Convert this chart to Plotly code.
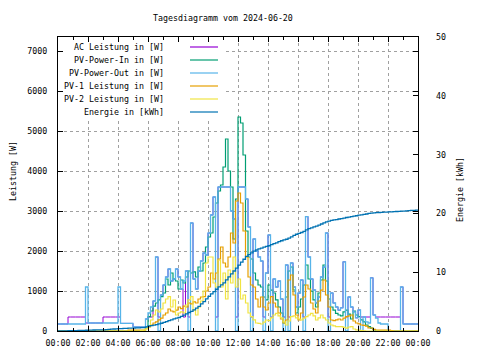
import pandas as pd
import plotly.graph_objects as go

# ---------------- data (10-minute samples, 2024-06-20 00:00 .. 2024-06-21 00:00) ----------------
times = pd.date_range("2024-06-20 00:00", "2024-06-21 00:00", freq="10min")

ac_power = [
    175, 175, 175, 175, 350, 350,
    350, 350, 350, 350, 350, 200,
    200, 200, 200, 200, 200, 200,
    350, 350, 350, 350, 350, 350,
    350, 190, 190, 190, 190, 190,
    100, 100, 100, 100, 100, 300,
    350, 350, 750, 1850, 350, 900,
    1150, 1350, 1550, 1250, 1300, 1550,
    1350, 1050, 350, 1500, 350, 2700,
    1300, 1050, 1500, 1750, 1950, 1900,
    2450, 2900, 3350, 350, 3600, 3600,
    3600, 3600, 3600, 3000, 2800, 350,
    3600, 3600, 3600, 3300, 2600, 350,
    2300, 2000, 1850, 1750, 350, 1450,
    2400, 350, 1300, 1100, 1250, 800,
    350, 1650, 350, 1700, 1100, 600,
    950, 1275, 350, 2860, 1850, 1300,
    1025, 700, 850, 1350, 1600, 2450,
    350, 950, 700, 600, 520, 580,
    1730, 350, 850, 600, 480, 330,
    525, 350, 350, 350, 350, 1330,
    400, 350, 350, 350, 350, 350,
    350, 350, 350, 350, 350, 1100,
    175, 175, 175, 175, 175, 175,
    175,
]

pv_power_in = [
    0, 0, 0, 0, 0, 0,
    0, 0, 0, 0, 0, 0,
    0, 0, 0, 0, 0, 0,
    0, 0, 0, 0, 0, 0,
    0, 0, 0, 0, 0, 0,
    0, 0, 0, 0, 0, 100,
    360, 500, 620, 700, 780, 860,
    950, 1300, 1150, 1450, 1300, 1250,
    1050, 1275, 1200, 1350, 1500, 1450,
    1480, 1350, 1600, 1500, 1700, 2100,
    2350, 2450, 2850, 3200, 3500, 3650,
    4100, 4800, 4000, 3600, 2300, 3300,
    5350, 5200, 4400, 2500, 1850, 1800,
    1450, 1275, 1150, 1100, 850, 780,
    1150, 1020, 950, 780, 600, 450,
    200, 850, 1500, 1600, 1025, 450,
    600, 800, 1150, 1650, 1300, 1000,
    780, 600, 950, 1275, 1650, 1250,
    800, 600, 520, 440, 400, 380,
    480, 520, 420, 300, 500, 400,
    360, 280, 230, 150, 110, 70,
    30, 0, 0, 0, 0, 0,
    0, 0, 0, 0, 0, 0,
    0, 0, 0, 0, 0, 0,
    0,
]

pv_power_out = [
    175, 175, 175, 175, 175, 175,
    175, 175, 175, 175, 175, 1100,
    200, 200, 200, 200, 200, 200,
    200, 200, 200, 200, 200, 200,
    1100, 190, 190, 190, 190, 190,
    100, 100, 100, 100, 100, 300,
    450, 600, 750, 1850, 0, 900,
    1150, 1350, 1550, 1250, 1300, 1550,
    1350, 1050, 1250, 1500, 0, 2700,
    1300, 1050, 1500, 1750, 1950, 1900,
    2450, 2900, 3350, 0, 3600, 3600,
    3600, 3600, 3600, 3000, 2800, 0,
    3600, 3600, 3600, 3300, 2600, 0,
    2300, 2000, 1850, 1750, 0, 1450,
    2400, 0, 1300, 1100, 1250, 800,
    0, 1650, 0, 1700, 1100, 600,
    950, 1275, 0, 2860, 1850, 1300,
    1025, 700, 850, 1350, 1600, 2450,
    0, 950, 700, 600, 520, 580,
    1730, 0, 850, 600, 480, 330,
    525, 0, 350, 230, 200, 1330,
    400, 320, 200, 175, 175, 175,
    0, 0, 0, 0, 0, 1100,
    175, 175, 175, 175, 175, 175,
    175,
]

pv1_power = [
    0, 0, 0, 0, 0, 0,
    0, 0, 0, 0, 0, 0,
    0, 0, 0, 0, 0, 0,
    0, 0, 0, 0, 0, 0,
    0, 0, 0, 0, 20, 20,
    20, 20, 20, 20, 20, 60,
    100, 150, 200, 230, 280, 320,
    400, 450, 550, 500, 480, 520,
    600, 560, 620, 600, 700, 680,
    730, 700, 800, 850, 860, 1000,
    1100, 1450, 1300, 1450, 1800, 2100,
    1700, 1600, 1850, 2450, 2200, 3250,
    3450, 3200, 2500, 1850, 1350, 1150,
    1100, 800, 600, 850, 600, 525,
    700, 860, 700, 600, 450, 300,
    200, 275, 1275, 1400, 900, 400,
    280, 450, 850, 1150, 1050, 700,
    550, 450, 750, 1020, 1275, 900,
    600, 275, 260, 280, 300, 275,
    320, 360, 380, 400, 250, 200,
    180, 150, 140, 120, 80, 75,
    40, 25, 20, 20, 20, 20,
    20, 10, 0, 0, 0, 0,
    0, 0, 0, 0, 0, 0,
    0,
]

pv2_power = [
    0, 0, 0, 0, 0, 0,
    0, 0, 0, 0, 0, 0,
    0, 0, 0, 0, 0, 0,
    0, 0, 0, 0, 0, 0,
    0, 0, 0, 0, 0, 0,
    0, 0, 0, 10, 20, 60,
    110, 275, 400, 525, 480, 550,
    700, 800, 860, 600, 775, 400,
    450, 480, 450, 650, 780, 860,
    525, 400, 600, 750, 1000, 1700,
    1850, 1850, 1200, 1100, 1775, 1100,
    1450, 800, 1525, 1200, 1850, 1100,
    1300, 800, 900, 700, 450, 360,
    280, 200, 190, 175, 220, 275,
    260, 330, 400, 440, 380, 330,
    230, 150, 250, 360, 380, 330,
    300, 275, 320, 360, 400, 440,
    380, 275, 330, 400, 330, 275,
    200, 150, 130, 110, 110, 110,
    90, 70, 100, 110, 50, 30,
    20, 10, 5, 0, 0, 0,
    0, 0, 0, 0, 0, 0,
    0, 0, 0, 0, 0, 0,
    0, 0, 0, 0, 0, 0,
    0,
]

energy_kwh = [
    0.00, 0.00, 0.02, 0.03, 0.04, 0.05,
    0.07, 0.08, 0.09, 0.10, 0.12, 0.13,
    0.15, 0.16, 0.17, 0.18, 0.18, 0.19,
    0.20, 0.24, 0.28, 0.31, 0.34, 0.37,
    0.40, 0.42, 0.44, 0.46, 0.48, 0.49,
    0.50, 0.52, 0.54, 0.56, 0.58, 0.70,
    0.85, 0.92, 1.00, 1.10, 1.20, 1.32,
    1.45, 1.60, 1.75, 1.90, 2.05, 2.18,
    2.30, 2.50, 2.70, 2.90, 3.15, 3.35,
    3.60, 3.90, 4.20, 4.60, 5.00, 5.45,
    5.90, 6.30, 6.70, 7.10, 7.50, 7.85,
    8.20, 8.70, 9.20, 9.70, 10.20, 10.70,
    11.20, 11.70, 12.20, 12.70, 13.00, 13.30,
    13.60, 13.80, 13.95, 14.10, 14.25, 14.40,
    14.50, 14.70, 14.85, 15.00, 15.20, 15.35,
    15.50, 15.60, 15.80, 16.00, 16.25, 16.45,
    16.60, 16.75, 16.95, 17.20, 17.40, 17.55,
    17.70, 17.85, 18.00, 18.20, 18.40, 18.55,
    18.70, 18.80, 18.90, 18.95, 19.05, 19.10,
    19.20, 19.30, 19.35, 19.45, 19.55, 19.60,
    19.70, 19.75, 19.85, 19.90, 20.00, 20.05,
    20.10, 20.12, 20.15, 20.18, 20.20, 20.22,
    20.25, 20.27, 20.30, 20.32, 20.35, 20.37,
    20.40, 20.43, 20.47, 20.50, 20.53, 20.57,
    20.60,
]

series_names = [
    "AC Leistung in [W]",
    "PV-Power-In in [W]",
    "PV-Power-Out in [W]",
    "PV-1 Leistung in [W]",
    "PV-2 Leistung in [W]",
    "Energie in [kWh]",
]
series_colors = ["#9400d3", "#009e73", "#56b4e9", "#e69f00", "#f0e442", "#0072b2"]
series_widths = [1.0, 1.2, 1.3, 1.2, 1.2, 1.3]

title_text = "Tagesdiagramm vom 2024-06-20"
y_title = "Leistung [W]"
y2_title = "Energie [kWh]"

# ---------------- figure ----------------
FONT = "DejaVu Sans Mono"
FS = 8.3
OFF = 8                      # page body margin of the html page
W, H = 480 - OFF, 360 - OFF  # figure size so the page fits the window
PL, PR, PT, PB = 58, 418, 37, 331   # plot area in window pixels
PW, PH = PR - PL, PB - PT
L, T = PL - OFF, PT - OFF
R, B = W - L - PW, H - T - PH

fig = go.Figure()
power_series = [ac_power, pv_power_in, pv_power_out, pv1_power, pv2_power]
for name, vals, col, wd in zip(series_names[:5], power_series, series_colors[:5], series_widths[:5]):
    fig.add_trace(go.Scatter(x=times, y=vals, name=name, mode="lines",
                             line=dict(color=col, width=wd, shape="hv"),
                             showlegend=False, yaxis="y"))
fig.add_trace(go.Scatter(x=times, y=energy_kwh, name=series_names[5], mode="lines",
                         line=dict(color=series_colors[5], width=series_widths[5], shape="hv"),
                         showlegend=False, yaxis="y2"))

def px_x(px):
    return (px - PL) / PW

def px_y(py):
    return 1 - (py - PT) / PH

annotations = []
shapes = []
# opaque white key box (hides the grid behind the key, like gnuplot)
shapes.append(dict(type="rect", xref="paper", yref="paper", layer="above",
                   x0=px_x(63.5), x1=px_x(223), y0=px_y(118), y1=px_y(43),
                   fillcolor="white", line=dict(width=0)))
# key (gnuplot style: right-aligned text, sample line on the right)
for k, (name, col) in enumerate(zip(series_names, series_colors)):
    yy = px_y(47 + 13 * k)
    annotations.append(dict(x=px_x(166), y=yy, xref="paper", yref="paper",
                            text=name, showarrow=False, xanchor="right", yanchor="middle",
                            font=dict(family=FONT, size=FS, color="black")))
    shapes.append(dict(type="line", xref="paper", yref="paper", layer="above",
                       x0=px_x(190), x1=px_x(218), y0=yy, y1=yy,
                       line=dict(color=col, width=1.2)))

annotations.append(dict(x=px_x(223), y=px_y(18), xref="paper", yref="paper", text=title_text,
                        showarrow=False, xanchor="center", yanchor="middle",
                        font=dict(family=FONT, size=FS, color="black")))
annotations.append(dict(x=px_x(13), y=px_y(171), xref="paper", yref="paper", text=y_title,
                        showarrow=False, textangle=-90, xanchor="center", yanchor="middle",
                        font=dict(family=FONT, size=FS, color="black")))
annotations.append(dict(x=px_x(460), y=px_y(190), xref="paper", yref="paper", text=y2_title,
                        showarrow=False, textangle=-90, xanchor="center", yanchor="middle",
                        font=dict(family=FONT, size=FS, color="black")))

tickfont = dict(family=FONT, size=FS, color="black")
GRID = dict(showgrid=True, gridcolor="#a0a0a0", griddash="3px,3px", gridwidth=1)

fig.update_layout(
    width=W, height=H,
    margin=dict(l=L, r=R, t=T, b=B, pad=0),
    paper_bgcolor="white", plot_bgcolor="white",
    font=dict(family=FONT, size=FS, color="black"),
    showlegend=False,
    annotations=annotations,
    shapes=shapes,
    xaxis=dict(
        range=[times[0], times[-1]],
        tickformat="%H:%M", dtick=2 * 3600 * 1000, tick0=times[0],
        ticks="inside", ticklen=5, tickcolor="black",
        minor=dict(ticks="inside", ticklen=3, dtick=3600 * 1000, tickcolor="black", showgrid=False),
        showline=True, linecolor="black", linewidth=1, mirror="ticks",
        tickfont=tickfont, zeroline=False, ticklabelstandoff=4, **GRID,
    ),
    yaxis=dict(
        range=[0, 7350], dtick=1000, tick0=0, tickformat="d",
        ticks="inside", ticklen=5, tickcolor="black",
        showline=True, linecolor="black", linewidth=1, mirror="ticks",
        tickfont=tickfont, zeroline=False, ticklabelstandoff=8, **GRID,
    ),
    yaxis2=dict(
        range=[0, 50], dtick=10, tick0=0, overlaying="y", side="right",
        ticks="inside", ticklen=5, tickcolor="black",
        showgrid=False, zeroline=False, showline=False,
        tickfont=tickfont, ticklabelstandoff=17,
    ),
)

fig.write_html("out.html")
